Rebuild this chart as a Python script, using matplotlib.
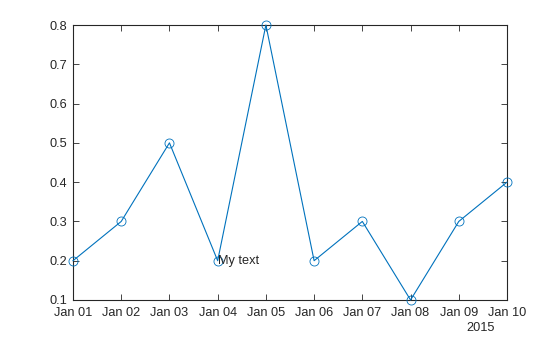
import numpy as np
import matplotlib
matplotlib.use("Agg")
import matplotlib.pyplot as plt
import matplotlib.dates as mdates

plt.rcParams['font.family'] = ['Liberation Sans', 'DejaVu Sans']

dates = np.arange(np.datetime64('2015-01-01'), np.datetime64('2015-01-11'))
values = [0.2, 0.3, 0.5, 0.2, 0.8, 0.2, 0.3, 0.1, 0.3, 0.4]
yticks = [0.1, 0.2, 0.3, 0.4, 0.5, 0.6, 0.7, 0.8]
note_idx = 3
note = "My text"

fig = plt.figure(figsize=(5.6, 3.37), dpi=100)
ax = fig.add_axes([73 / 560, 37 / 337, 434 / 560, 275 / 337])

ax.plot(dates, values, color='#0072BD', linewidth=0.8,
        marker='o', markersize=6.5, markerfacecolor='none',
        markeredgewidth=0.6, clip_on=False, zorder=3)
ax.text(dates[note_idx], values[note_idx], note, ha='left', va='center',
        fontsize=9.2, color='#262626')

ax.set_xlim(dates[0], dates[-1])
ax.set_ylim(0.1, 0.8)
ax.set_xticks(dates)
ax.xaxis.set_major_formatter(mdates.DateFormatter('%b %d'))
ax.set_yticks(yticks)
ax.set_yticklabels([f"{v:.1f}" for v in yticks])

ax.tick_params(direction='in', length=4, width=0.6, top=True, right=True,
               labelsize=9.2, labelcolor='#262626', color='#262626')
ax.tick_params(axis='x', pad=5)
ax.tick_params(axis='y', pad=4)
for s in ax.spines.values():
    s.set_linewidth(0.8)
    s.set_color('#262626')

fig.text(495 / 560, 1 - 322 / 337, "2015", ha='right', va='top',
         fontsize=9.2, color='#262626')

fig.savefig('out.png', dpi=100)
